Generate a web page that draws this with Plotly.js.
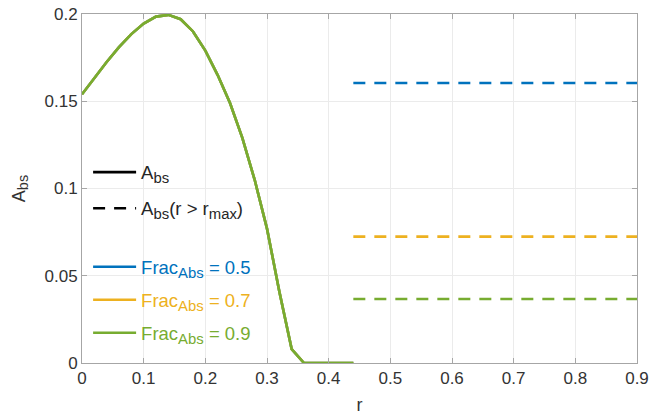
<!DOCTYPE html>
<html>
<head>
<meta charset="utf-8">
<script src="https://cdn.plot.ly/plotly-3.0.1.min.js"></script>
<style>html,body{margin:0;padding:0;background:#fff;}#plot{width:653px;height:418px;}</style>
</head>
<body>
<div id="plot"></div>
<script>
// Data
const r = [0, 0.02, 0.04, 0.06, 0.08, 0.10, 0.12, 0.14, 0.16, 0.18, 0.20, 0.22, 0.24, 0.26, 0.28, 0.30, 0.32, 0.34, 0.36, 0.38, 0.40, 0.42, 0.44];
const Abs = [0.154, 0.1635, 0.1725, 0.181, 0.1885, 0.1945, 0.1985, 0.1995, 0.197, 0.190, 0.179, 0.165, 0.149, 0.129, 0.105, 0.077, 0.041, 0.008, 0, 0, 0, 0, 0];
const rDash = [0.44, 0.9];
const dash05 = [0.1605, 0.1605];
const dash07 = [0.0724, 0.0724];
const dash09 = [0.0367, 0.0367];
const fracLabels = ['0.5', '0.7', '0.9'];
const colors = ['#0072BD', '#EDB120', '#77AC30'];

const W = 2.6;
const dashStyle = '12px,9px';
const sub = s => '<sub><span style="font-size:115%">' + s + '</span></sub>';
const traces = [];
// legend-only black entries
traces.push({x: [null], y: [null], mode: 'lines', line: {color: '#000', width: W}, name: 'A' + sub('bs'), legendgroup: 'g1', legend: 'legend'});
traces.push({x: [null], y: [null], mode: 'lines', line: {color: '#000', width: W, dash: dashStyle}, name: 'A' + sub('bs') + '(r &gt; r' + sub('max') + ')', legendgroup: 'g2', legend: 'legend'});
const dashes = [dash05, dash07, dash09];
for (let i = 0; i < 3; i++) {
  traces.push({x: r, y: Abs, mode: 'lines', line: {color: colors[i], width: W},
    name: '<span style="color:' + colors[i] + '">Frac' + sub('Abs') + ' = ' + fracLabels[i] + '</span>', legendgroup: 'f' + i, legend: 'legend2'});
}
for (let i = 0; i < 3; i++) {
  traces.push({x: rDash, y: dashes[i], mode: 'lines', line: {color: colors[i], width: W, dash: dashStyle}, showlegend: false});
}

const font = {family: 'Liberation Sans, Arial, sans-serif', size: 17, color: '#333333'};
const legendBase = {xanchor: 'left', yanchor: 'top', bgcolor: 'rgba(0,0,0,0)',
  traceorder: 'grouped', tracegroupgap: 6, itemwidth: 43, font: {size: 18.5, color: '#262626'}};
const axisCol = '#a6a6a6';
const layout = {
  width: 653, height: 418,
  margin: {l: 82, r: 16, t: 14, b: 55},
  paper_bgcolor: '#fff', plot_bgcolor: '#fff',
  font: font,
  showlegend: true,
  legend: Object.assign({}, legendBase, {x: 0.011, y: 0.6, tracegroupgap: 9}),
  legend2: Object.assign({}, legendBase, {x: 0.011, y: 0.329}),
  xaxis: {range: [0, 0.9], dtick: 0.1, tick0: 0, showgrid: true, gridcolor: '#ebebeb', gridwidth: 1,
    zeroline: false, showline: true, linecolor: axisCol, linewidth: 1, mirror: 'ticks',
    ticks: 'inside', ticklen: 5, tickcolor: axisCol,
    title: {text: 'r', font: {size: 18}, standoff: 10}},
  yaxis: {range: [0, 0.2], dtick: 0.05, tick0: 0, showgrid: true, gridcolor: '#ebebeb', gridwidth: 1,
    zeroline: false, showline: true, linecolor: axisCol, linewidth: 1, mirror: 'ticks',
    ticks: 'inside', ticklen: 5, tickcolor: axisCol,
    title: {text: 'A' + sub('bs'), font: {size: 18}, standoff: 14}}
};
Plotly.newPlot('plot', traces, layout, {displayModeBar: false, staticPlot: true});
</script>
</body>
</html>
